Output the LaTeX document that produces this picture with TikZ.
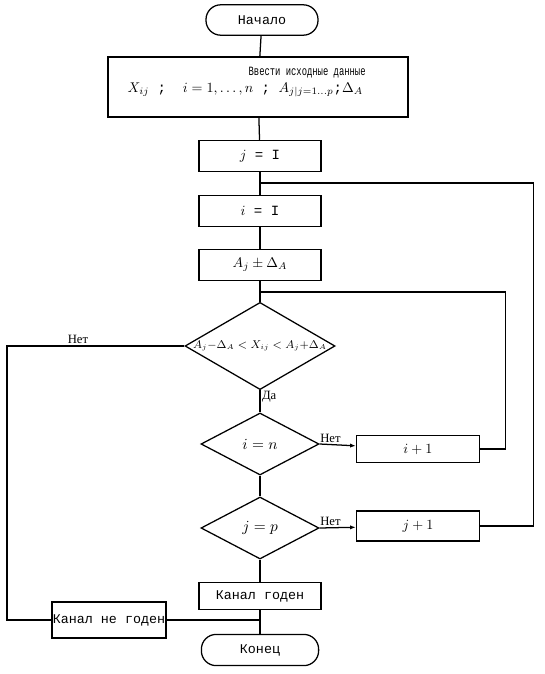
\documentclass[tikz,border=0pt]{standalone}
\usepackage{amsmath,amssymb}
\usepackage{fontspec}
\setmainfont{Liberation Mono}
\newfontfamily\lblfont{Liberation Serif}
\newfontfamily\headfont[FakeStretch=0.7]{Liberation Mono}
\usepackage{tikz}
\usetikzlibrary{arrows.meta,shapes,positioning,calc}

\begin{document}
\begin{tikzpicture}[x=0.025cm,y=-0.025cm,line width=0.9pt,
  term/.style={draw,rounded corners=0.37cm,minimum width=2.8cm,
               minimum height=0.76cm,align=center,font=\fontsize{9.5}{11}\selectfont},
  box/.style={draw,minimum width=3.05cm,minimum height=0.78cm,
              align=center,font=\fontsize{10}{11}\selectfont},
  dec/.style={draw,diamond,inner sep=0pt,minimum width=2.95cm,
              minimum height=1.55cm,label={[font=\fontsize{10.5}{12}\selectfont]center:#1}},
  txt/.style={anchor=west,inner sep=0pt},
  lbl/.style={font=\lblfont\fontsize{9}{10}\selectfont,inner sep=1pt}]
  \useasboundingbox (0,0) rectangle (544,674);
  \node[term] (start) at (262,20) {Начало};
  \node[draw,minimum width=7.5cm,minimum height=1.5cm] (input) at (258,87) {};
  \node[txt,font=\headfont\fontsize{9}{11}\selectfont] (inhead) at (248,73) {Ввести исходные данные};
  \node[txt,font=\fontsize{10}{11}\selectfont] (indata) at (127,90)
        {$X_{ij}$ ;\ \ $i=1,\ldots,n$ ; $A_{j|j=1\ldots p}$;$\Delta_A$};
  \node[box] (j1) at (260,156) {$j$ = I};
  \node[box] (i1) at (260,211) {$i$ = I};
  \node[box] (aj) at (260,265) {$A_j\pm\Delta_A$};
  \node[draw,diamond,inner sep=0pt,minimum width=3.75cm,minimum height=2.18cm,
        label={[font=\fontsize{7.6}{9}\selectfont]center:$A_j{-}\Delta_A<X_{ij}<A_j{+}\Delta_A$}]
        (d1) at (260,346) {};
  \node[dec={$i = n$}] (d2) at (260,444) {};
  \node[dec={$j = p$}] (d3) at (260,528) {};
  \node[box,minimum width=3.08cm,minimum height=0.66cm] (ip1) at (418,449) {$i+1$};
  \node[box,minimum width=3.08cm,minimum height=0.75cm] (jp1) at (418,526) {$j+1$};
  \node[box,minimum height=0.66cm,font=\fontsize{9.5}{11}\selectfont] (good) at (260,596) {Канал годен};
  \node[box,minimum width=2.85cm,minimum height=0.9cm,inner sep=0pt,
        font=\fontsize{9.5}{11}\selectfont] (bad) at (109,620) {Канал не годен};
  \node[term,minimum width=2.93cm,minimum height=0.78cm] (end) at (260,650) {Конец};
  % junctions on the main line
  \coordinate (jn1) at (260,183);
  \coordinate (jn2) at (260,292);
  \coordinate (jn3) at (260,620);
  \coordinate (lft) at (7,346);
  % main line
  \draw (start) -- (input);
  \draw (input) -- (j1);
  \draw (j1) -- (i1);
  \draw (i1) -- (aj);
  \draw (aj) -- (d1);
  \draw (d1) -- node[lbl,pos=0.3,right] {Да} (d2);
  \draw (d2) -- (d3);
  \draw (d3) -- (good);
  \draw (good) -- (end);
  % branches
  \draw[-{Latex[length=4pt,width=3pt]}] (d2.east) -- node[lbl,above,pos=0.3] {Нет} (ip1);
  \draw[-{Latex[length=4pt,width=3pt]}] (d3.east) -- node[lbl,above,pos=0.3] {Нет} (jp1);
  \draw (ip1.east) -- ++(25,0) |- (jn2);
  \draw (jp1.east) -- ++(53,0) |- (jn1);
  \draw (d1.west) -- node[lbl,above,pos=0.6] {Нет} (lft) |- (bad.west);
  \draw (bad.east) -- (jn3);
\end{tikzpicture}
\end{document}
